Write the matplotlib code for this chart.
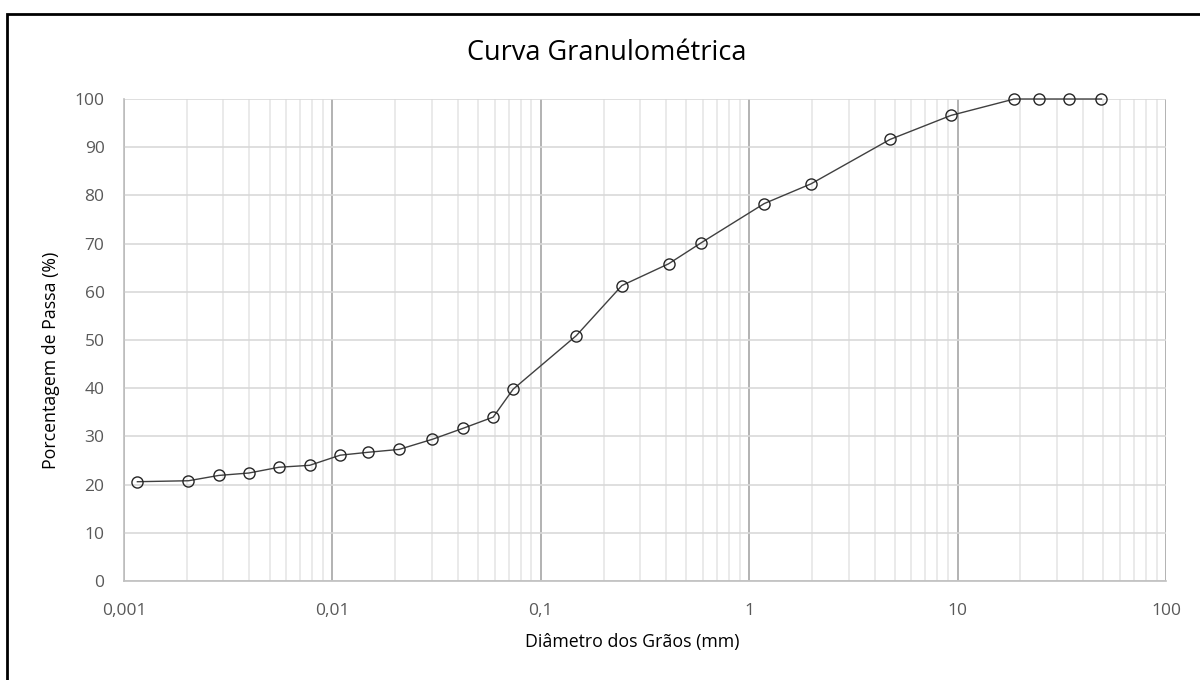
import matplotlib
matplotlib.use("Agg")
import matplotlib.pyplot as plt
import matplotlib.ticker as mticker
from matplotlib.patches import Rectangle

# granulometric curve: grain diameter (mm) vs percent passing
diametro = [0.00116, 0.00204, 0.00285, 0.00397, 0.00555, 0.00778, 0.0109,
            0.0148, 0.0209, 0.0302, 0.0425, 0.0591, 0.0737, 0.148, 0.245,
            0.41, 0.59, 1.18, 1.98, 4.73, 9.3, 18.7, 24.5, 34.3, 49.0]
passante = [20.6, 20.8, 21.9, 22.4, 23.6, 24.0, 26.1, 26.7, 27.3, 29.4,
            31.7, 34.0, 39.8, 50.9, 61.3, 65.8, 70.2, 78.3, 82.4, 91.6,
            96.6, 100.0, 100.0, 100.0, 100.0]

x_ticks = [0.001, 0.01, 0.1, 1, 10, 100]
x_labels = ["0,001", "0,01", "0,1", "1", "10", "100"]
y_ticks = list(range(0, 101, 10))

plt.rcParams['font.family'] = ['Open Sans', 'DejaVu Sans']

fig = plt.figure(figsize=(12, 6.8), dpi=100)
ax = fig.add_axes([0.1033, 0.1456, 0.8684, 0.7088])

# outer frame (only top and left edges fall inside the picture)
fig.patches.append(Rectangle((7 / 1200, -0.05), 1.1, 1.03,
                             transform=fig.transFigure, fill=False,
                             edgecolor='black', lw=2, zorder=0))

ax.plot(diametro, passante, color='#404040', lw=1, marker='o', ms=8,
        mfc='none', mec='#262626', mew=1, zorder=3, clip_on=False)

ax.set_xscale('log')
ax.set_xlim(0.001, 100)
ax.set_ylim(0, 100)

ax.xaxis.set_major_locator(mticker.FixedLocator(x_ticks))
ax.xaxis.set_major_formatter(mticker.FixedFormatter(x_labels))
ax.xaxis.set_minor_locator(mticker.LogLocator(base=10, subs=range(2, 10), numticks=20))
ax.xaxis.set_minor_formatter(mticker.NullFormatter())
ax.set_yticks(y_ticks)

ax.grid(True, which='major', axis='x', color='#a6a6a6', lw=1.2)
ax.grid(True, which='minor', axis='x', color='#e6e6e6', lw=1.2)
ax.grid(True, which='major', axis='y', color='#d9d9d9', lw=1.2)
ax.set_axisbelow(True)

for s in ['top', 'right']:
    ax.spines[s].set_visible(False)
for s in ['left', 'bottom']:
    ax.spines[s].set_color('#bfbfbf')
    ax.spines[s].set_linewidth(1.2)

ax.tick_params(which='both', length=0, labelsize=12.5, colors='#595959')
ax.tick_params(axis='y', pad=14)
ax.tick_params(axis='x', pad=16)

# title is centred over the whole chart area, not the plot area
fig.text(607 / 1200, 1 - 53 / 680, "Curva Granulométrica", fontsize=19.5,
         color='black', ha='center', va='center')
ax.set_xlabel("Diâmetro dos Grãos (mm)", fontsize=12.8, color='black', labelpad=10)
ax.xaxis.set_label_coords(0.4875, -0.108)
ax.set_ylabel("Porcentagem de Passa (%)", fontsize=12.8, color='black', labelpad=12)
ax.yaxis.set_label_coords(-0.061, 0.4585)

fig.savefig("out.png", dpi=100)
